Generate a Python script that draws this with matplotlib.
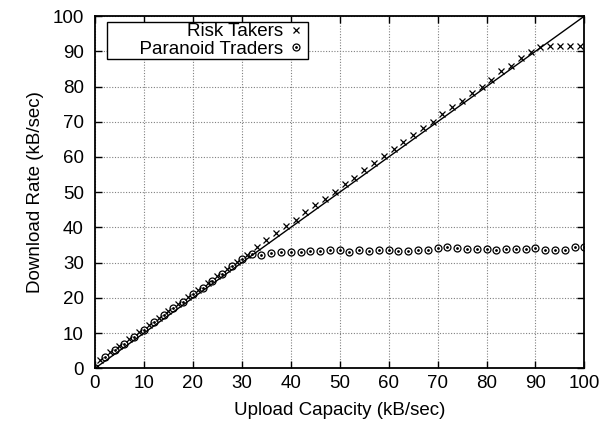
import matplotlib
matplotlib.use("Agg")
import matplotlib.pyplot as plt

plt.rcParams['font.family'] = ['Liberation Sans', 'DejaVu Sans']

# upload capacity (kB/sec) for each group
risk_x = list(range(1, 100, 2))
risk_y = [2.3, 4.5, 6.3, 8.3, 10.2, 12.3, 14.2, 16.3, 18.2, 20.3,
          22.2, 24.3, 26.2, 28.3, 30.2, 32.3, 34.3, 36.4, 38.4, 40.3,
          42.2, 44.3, 46.4, 48.1, 50.0, 52.4, 54.0, 56.2, 58.2, 60.2,
          62.3, 64.3, 66.2, 68.3, 70.0, 72.2, 74.1, 76.0, 78.1, 80.0,
          81.9, 84.3, 85.9, 88.1, 89.8, 91.2, 91.6, 91.6, 91.6, 91.6]

para_x = list(range(0, 101, 2))
para_y = [0.0, 3.1, 5.2, 6.9, 8.9, 10.9, 13.1, 15.0, 17.0, 18.9,
          21.1, 22.9, 24.9, 26.9, 29.0, 30.9, 32.4, 32.2, 32.7, 32.9,
          33.1, 33.1, 33.3, 33.3, 33.6, 33.6, 33.0, 33.5, 33.3, 33.6,
          33.6, 33.3, 33.3, 33.6, 33.6, 34.1, 34.3, 34.1, 33.8, 33.8,
          34.0, 33.6, 33.8, 33.8, 33.8, 34.1, 33.6, 33.6, 33.6, 34.3,
          34.3]

ideal = [0, 100]
fs = 13.5

fig = plt.figure(figsize=(6.05, 4.29), dpi=100)
ax = fig.add_axes([0.157, 0.1415, 0.809, 0.821])

ax.plot(ideal, ideal, color='black', lw=1.0, zorder=2)
h1, = ax.plot(risk_x, risk_y, ls='none', marker='x', ms=4.5, mew=0.9,
              color='black', zorder=3)
h2, = ax.plot(para_x, para_y, ls='none', marker='o', ms=5, mew=0.9,
              mfc='none', color='black', zorder=3)
h3, = ax.plot(para_x, para_y, ls='none', marker='o', ms=1.0,
              color='black', zorder=3)

ax.set_xlim(0, 100)
ax.set_ylim(0, 100)
ax.set_xticks(range(0, 101, 10))
ax.set_yticks(range(0, 101, 10))
ax.grid(True, color='#808080', ls=(0, (1, 1.5)), lw=0.8)
ax.set_axisbelow(True)
ax.tick_params(direction='in', length=5, width=1, top=True, right=True,
               labelsize=fs)
ax.tick_params(axis='x', pad=5)
ax.tick_params(axis='y', pad=8)
for s in ax.spines.values():
    s.set_linewidth(1.3)

ax.set_xlabel('Upload Capacity (kB/sec)', fontsize=fs, labelpad=7)
ax.set_ylabel('Download Rate (kB/sec)', fontsize=fs, labelpad=6)

# gnuplot-style key: wide box, right-justified text, sample on the right
leg = ax.legend([h1, (h2, h3)],
                ['Risk Takers', '      Paranoid Traders'],
                loc='upper left', bbox_to_anchor=(0.024, 0.982),
                borderaxespad=0, markerfirst=False, fontsize=fs,
                fancybox=False, framealpha=1, edgecolor='black',
                labelspacing=0.02, handlelength=1.2, handletextpad=0.1,
                borderpad=0.05)
leg.get_frame().set_linewidth(1.0)
for t in leg.get_texts():
    t.set_ha('right')

fig.savefig('out.png', dpi=100)
